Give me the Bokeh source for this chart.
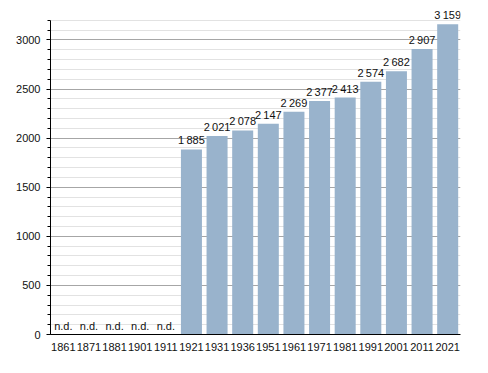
from bokeh.plotting import figure
from bokeh.models import ColumnDataSource, FactorRange, Range1d, SingleIntervalTicker
from bokeh.core.properties import value
from bokeh.embed import file_html
from bokeh.resources import INLINE

years = ["1861", "1871", "1881", "1901", "1911", "1921", "1931", "1936",
         "1951", "1961", "1971", "1981", "1991", "2001", "2011", "2021"]
population = [None, None, None, None, None, 1885, 2021, 2078,
              2147, 2269, 2377, 2413, 2574, 2682, 2907, 3159]
missing_label = "n.d."

have_x = [y for y, v in zip(years, population) if v is not None]
have_v = [v for v in population if v is not None]
have_t = [f"{v:,}".replace(",", "\u2009") for v in have_v]
nd_x = [y for y, v in zip(years, population) if v is None]
nd_v = [0 for _ in nd_x]
nd_t = [missing_label for _ in nd_x]

src = ColumnDataSource(dict(x=have_x, v=have_v, t=have_t))
nd_src = ColumnDataSource(dict(x=nd_x, v=nd_v, t=nd_t))

FONT = "Liberation Sans"

p = figure(x_range=FactorRange(*years), y_range=Range1d(0, 3300),
           width=470, height=355, output_backend="svg", toolbar_location=None,
           min_border_left=50, min_border_right=10, min_border_top=10, min_border_bottom=21)
p.outline_line_color = None
p.background_fill_color = "white"

p.vbar(x="x", top="v", width=0.82, source=src, fill_color="#99b3cc", line_color=None)

for s in (src, nd_src):
    p.text(x="x", y="v", text="t", source=s, text_align="center", text_baseline="bottom",
           y_offset=-3, text_font=value(FONT), text_font_size="11px", text_color="#111111")

p.yaxis.ticker = SingleIntervalTicker(interval=500, num_minor_ticks=5)
p.yaxis.bounds = (0, 3200)
p.ygrid.grid_line_color = "#a6a6a6"
p.ygrid.minor_grid_line_color = "#e2e2e2"
p.xgrid.grid_line_color = None

for ax in (p.xaxis, p.yaxis):
    ax.axis_line_color = "black"
    ax.major_label_text_font = FONT
    ax.major_label_text_font_size = "11px"
    ax.major_label_text_color = "#111111"

p.yaxis.major_tick_out = 4
p.yaxis.major_tick_in = 0
p.yaxis.minor_tick_out = 3
p.yaxis.minor_tick_in = 0
p.yaxis.major_tick_line_color = "black"
p.yaxis.minor_tick_line_color = "black"
p.yaxis.major_label_standoff = 6
p.xaxis.major_tick_line_color = None
p.xaxis.minor_tick_line_color = None
p.xaxis.major_label_standoff = 2

open("out.html", "w").write(file_html(p, INLINE))
